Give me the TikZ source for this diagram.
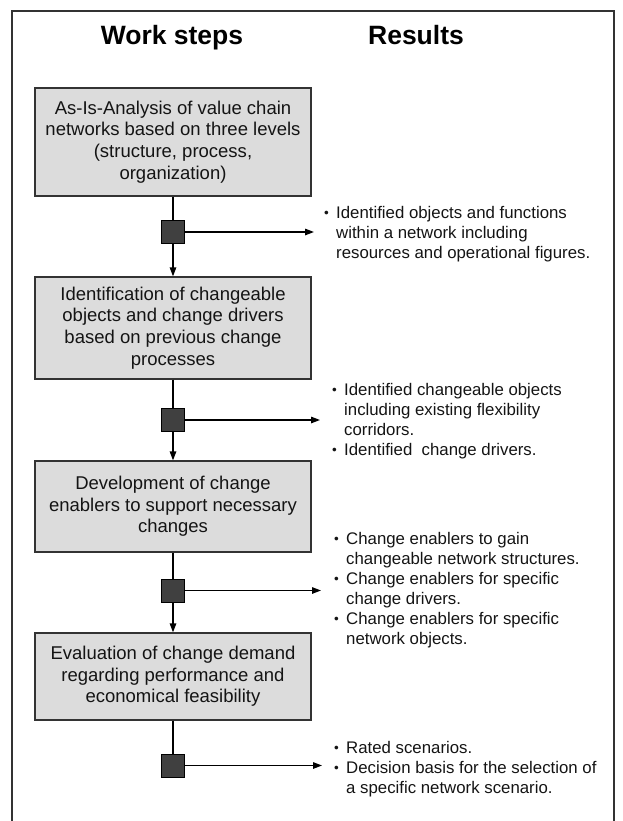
\documentclass[tikz,border=0pt]{standalone}
\usepackage{fontspec}
\setmainfont{Liberation Sans}
\usetikzlibrary{arrows.meta,positioning}
\definecolor{framegray}{HTML}{333333}
\definecolor{boxfill}{HTML}{DCDCDC}
\definecolor{squaredark}{HTML}{404040}
\definecolor{bodytext}{HTML}{141414}

\tikzset{
    stepbox/.style={draw=framegray, line width=1.3pt, fill=boxfill, minimum width=276pt, inner sep=0pt,
        align=center, text=bodytext, font=\fontsize{18.5}{21.7}\selectfont},
    junction/.style={draw=black, line width=0.8pt, fill=squaredark, minimum size=23pt, inner sep=0pt},
    result/.style={anchor=north west, align=left, inner sep=0pt, text=bodytext, font=\fontsize{16.8}{20}\selectfont},
    heading/.style={anchor=base, font=\fontsize{26.5}{30}\selectfont\bfseries},
    stem/.style={line width=1.5pt},
    link/.style={line width=1.3pt, -{Triangle[length=9pt,width=6.5pt]}}
}
\newcommand{\bul}{\makebox[12pt][l]{\raisebox{0.8pt}{\fontsize{13.5}{13.5}\selectfont\textbullet}}}
\newcommand{\cont}{\hspace*{12pt}}

\begin{document}
\begin{tikzpicture}[x=1pt, y=-1pt]
    \useasboundingbox (0,0) rectangle (623,821);

    % Frame (open at the bottom)
    \draw[framegray, line width=1.2pt] (12,821) -- (12,11) -- (614,11) -- (614,821);

    % Headings
    \node[heading] (hsteps) at (172,45) {Work steps};
    \node[heading] (hresults) at (416,45) {Results};

    % Work steps
    \node[stepbox, minimum height=108pt] (box1) at (173,142) {As-Is-Analysis of value chain\\networks based on three levels\\(structure, process,\\organization)};
    \node[stepbox, minimum height=102pt] (box2) at (173,328) {Identification of changeable\\objects and change drivers\\based on previous change\\processes};
    \node[stepbox, minimum height=91pt] (box3) at (173,506.5) {Development of change\\enablers to support necessary\\changes};
    \node[stepbox, minimum height=87pt] (box4) at (173,676.5) {Evaluation of change demand\\regarding performance and\\economical feasibility};

    % Junctions
    \node[junction] (sq1) at (173,232) {};
    \node[junction] (sq2) at (173,420) {};
    \node[junction] (sq3) at (173,590.5) {};
    \node[junction] (sq4) at (173,765.5) {};

    % Arrow ends towards the results
    \coordinate (r1) at (314,232);
    \coordinate (r2) at (320,420);
    \coordinate (r3) at (321,590.5);
    \coordinate (r4) at (322,765.5);

    % Connectors
    \draw[stem] (box1) -- (sq1);
    \draw[link] (sq1) -- (box2);
    \draw[link] (sq1) -- (r1);
    \draw[stem] (box2) -- (sq2);
    \draw[link] (sq2) -- (box3);
    \draw[link] (sq2) -- (r2);
    \draw[stem] (box3) -- (sq3);
    \draw[link] (sq3) -- (box4);
    \draw[link] (sq3) -- (r3);
    \draw[stem] (box4) -- (sq4);
    \draw[link] (sq4) -- (r4);

    % Results
    \node[result] (res1) at (324,204.5) {\strut\bul Identified objects and functions\\
        \cont within a network including\\
        \cont resources and operational figures.};
    \node[result] (res2) at (332,381.5) {\strut\bul Identified changeable objects\\
        \cont including existing flexibility\\
        \cont corridors.\\
        \bul Identified\ \ change drivers.};
    \node[result] (res3) at (334,530.5) {\strut\bul Change enablers to gain\\
        \cont changeable network structures.\\
        \bul Change enablers for specific\\
        \cont change drivers.\\
        \bul Change enablers for specific\\
        \cont network objects.};
    \node[result] (res4) at (334,739.5) {\strut\bul Rated scenarios.\\
        \bul Decision basis for the selection of\\
        \cont a specific network scenario.};
\end{tikzpicture}
\end{document}
